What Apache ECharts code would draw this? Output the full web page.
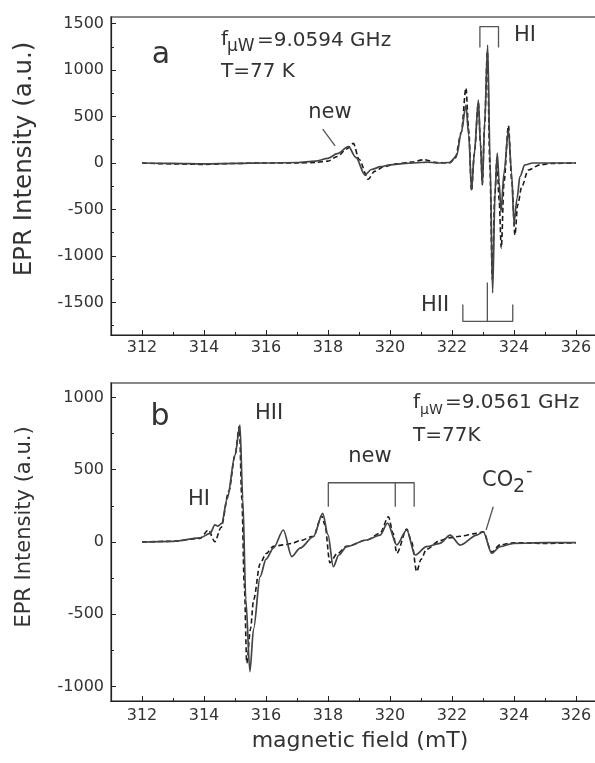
<!DOCTYPE html>
<html><head><meta charset="utf-8">
<script src="https://cdn.jsdelivr.net/npm/echarts@6/dist/echarts.min.js"></script>
<style>html,body{margin:0;padding:0;background:#fff}#c{width:595px;height:763px}</style>
</head><body><div id="c"></div>
<script>
// ---------- tick values ----------
const xTicks = [312, 314, 316, 318, 320, 322, 324, 326];
const xMinorTicks = [313, 315, 317, 319, 321, 323, 325, 327];
const yTicksA = [-1500, -1000, -500, 0, 500, 1000, 1500];
const yMinorA = [-1750, -1250, -750, -250, 250, 750, 1250];
const yTicksB = [-1000, -500, 0, 500, 1000];
const yMinorB = [-750, -250, 250, 750];

// ---------- panel a spectra [field mT, intensity] ----------
const solidA = [
  [312,0],[313,-5],[314,-10],[315,-5],[316,0],[317,5],[317.6,20],[318.0,50],[318.3,100],
  [318.66,175],[318.9,60],[319.19,-128],[319.4,-70],[319.7,-40],[320.0,-20],[320.5,-5],
  [321.0,5],[321.2,10],[321.5,0],[321.94,5],[322.15,80],[322.3,330],[322.45,623],[322.54,300],
  [322.63,-290],[322.72,100],[322.85,677],[322.92,200],[322.98,-236],[323.05,400],[323.15,1268],
  [323.23,0],[323.31,-1398],[323.39,-300],[323.46,107],[323.52,-200],[323.58,-523],[323.68,-100],
  [323.82,355],[323.92,-100],[324.0,-645],[324.1,-380],[324.19,-147],[324.35,-21],[324.6,0],[325,0],[326,0]
];
const dashedA = [
  [312,0],[313,-10],[314,-15],[315,-5],[316,0],[317,0],[317.6,5],[318.0,20],[318.3,70],
  [318.6,150],[318.82,211],[319.0,40],[319.3,-175],[319.5,-90],[319.8,-40],[320.2,-10],
  [320.7,10],[321.1,35],[321.5,5],[321.9,0],[322.1,50],[322.3,330],[322.45,806],[322.54,350],
  [322.63,-300],[322.72,100],[322.85,650],[322.92,200],[322.98,-230],[323.05,400],[323.14,1200],
  [323.22,0],[323.3,-1250],[323.38,-350],[323.45,50],[323.52,-400],[323.59,-914],[323.68,-200],
  [323.82,403],[323.93,-200],[324.03,-774],[324.12,-450],[324.25,-254],[324.46,-75],[324.84,-20],
  [325.2,-5],[326,0]
];

// ---------- panel b spectra ----------
const solidB = [
  [312,0],[313,5],[313.87,28],[314.2,60],[314.35,118],[314.45,110],[314.57,129],[314.75,300],
  [315.0,600],[315.16,809],[315.25,300],[315.35,-400],[315.48,-897],[315.6,-600],[315.81,-240],
  [316.0,-120],[316.24,-42],[316.56,83],[316.83,-101],[317.1,-42],[317.53,37],[317.83,198],
  [318.0,50],[318.17,-171],[318.35,-90],[318.6,-32],[319.25,14],[319.68,47],[319.92,131],
  [320.22,-20],[320.54,83],[320.81,-90],[321.18,-32],[321.61,-9],[321.94,48],[322.26,-21],
  [322.8,48],[323.01,71],[323.28,-78],[323.55,-32],[323.98,-9],[325,-5],[326,-5]
];
const dashedB = [
  [312,0],[313,5],[313.87,25],[314.14,83],[314.35,2],[314.55,100],[314.8,350],[315.0,600],
  [315.14,800],[315.22,300],[315.3,-300],[315.38,-838],[315.5,-600],[315.6,-400],[315.81,-150],
  [316.0,-80],[316.24,-30],[316.56,-20],[316.83,-10],[317.1,10],[317.53,40],[317.8,180],
  [317.9,120],[318.06,-143],[318.3,-80],[318.6,-30],[319.25,14],[319.68,60],[319.95,175],
  [320.1,60],[320.22,-78],[320.54,90],[320.7,0],[320.86,-205],[321.0,-120],[321.18,-50],
  [321.61,10],[321.94,30],[322.26,40],[322.8,60],[323.01,71],[323.28,-70],[323.55,-20],
  [324,-5],[325,-10],[326,-5]
];

// ---------- annotation brackets / pointers (data coordinates) ----------
const bracketHI_A = [[322.9,1242],[322.9,1467],[323.5,1467],[323.5,1242]];
const bracketHII_A = [[322.35,-1521],[322.35,-1703],[323.96,-1703],[323.96,-1521]];
const stemHII_A = [[323.14,-1285],[323.14,-1703]];
const pointerNew_A = [[317.83,365],[318.23,183]];
const bracketNew_B = [[318.01,244],[318.01,410],[320.78,410],[320.78,244]];
const stemNew_B = [[320.17,410],[320.17,244]];
const pointerCO2_B = [[323.33,244],[323.1,83]];

const FONT = '"DejaVu Sans", sans-serif';
const TXT = '#333';
const AX = '#222';

const chart = echarts.init(document.getElementById('c'), null, {renderer: 'canvas'});

function gridDef(top) {
  return {left: 111, top: top, width: 496, height: 318, show: true,
          borderColor: '#888', borderWidth: 2, backgroundColor: 'transparent',
          containLabel: false, outerBoundsMode: 'none'};
}
const plain = function (v) { return String(v); };
function mainX(gi, margin) {
  return {type: 'value', gridIndex: gi, min: 311, max: 327, position: 'bottom',
    axisLine: {show: true, onZero: false, lineStyle: {color: AX, width: 1.2}},
    axisTick: {show: true, inside: true, length: 5, customValues: xTicks, lineStyle: {color: AX}},
    axisLabel: {show: true, customValues: xTicks, margin: margin, fontFamily: FONT, fontSize: 16, color: TXT, formatter: plain},
    splitLine: {show: false}};
}
function minorX(gi) {
  return {type: 'value', gridIndex: gi, min: 311, max: 327, position: 'bottom',
    axisLine: {show: false, onZero: false},
    axisTick: {show: true, inside: true, length: 3, customValues: xMinorTicks, lineStyle: {color: AX}},
    axisLabel: {show: false, customValues: xMinorTicks}, splitLine: {show: false}};
}
function mainY(gi, min, max, ticks) {
  return {type: 'value', gridIndex: gi, min: min, max: max, position: 'left',
    axisLine: {show: true, onZero: false, lineStyle: {color: AX, width: 1.2}},
    axisTick: {show: true, inside: true, length: 5, customValues: ticks, lineStyle: {color: AX}},
    axisLabel: {show: true, customValues: ticks, margin: 7, fontFamily: FONT, fontSize: 16, color: TXT, formatter: plain},
    splitLine: {show: false}};
}
function minorY(gi, min, max, ticks) {
  return {type: 'value', gridIndex: gi, min: min, max: max, position: 'left',
    axisLine: {show: false, onZero: false},
    axisTick: {show: true, inside: true, length: 3, customValues: ticks, lineStyle: {color: AX}},
    axisLabel: {show: false, customValues: ticks}, splitLine: {show: false}};
}
function curve(data, xi, yi, dashed) {
  return {type: 'line', xAxisIndex: xi, yAxisIndex: yi, data: data, symbol: 'none',
    smooth: 0.3, smoothMonotone: 'x', silent: true, z: dashed ? 3 : 4,
    lineStyle: dashed ? {color: '#1a1a1a', width: 1.6, type: [5, 3]} : {color: '#444', width: 1.7}};
}
function mark(data, xi, yi) {
  return {type: 'line', xAxisIndex: xi, yAxisIndex: yi, data: data, symbol: 'none',
    smooth: false, silent: true, z: 5, lineStyle: {color: '#555', width: 1.3}};
}
function txt(x, y, text, size, align, extra) {
  return Object.assign({type: 'text', x: x, y: y, silent: true,
    style: {text: text, font: size + 'px ' + FONT, fill: TXT, align: align || 'left', verticalAlign: 'middle'}}, extra || {});
}

chart.setOption({
  animation: false,
  backgroundColor: '#fff',
  grid: [gridDef(17), gridDef(383)],
  xAxis: [mainX(0, 5), minorX(0), mainX(1, 7), minorX(1)],
  yAxis: [mainY(0, -1850, 1570, yTicksA), minorY(0, -1850, 1570, yMinorA),
          mainY(1, -1100, 1100, yTicksB), minorY(1, -1100, 1100, yMinorB)],
  series: [
    curve(dashedA, 0, 0, true), curve(solidA, 0, 0, false),
    curve(dashedB, 2, 2, true), curve(solidB, 2, 2, false),
    mark(bracketHI_A, 0, 0), mark(bracketHII_A, 0, 0), mark(stemHII_A, 0, 0), mark(pointerNew_A, 0, 0),
    mark(bracketNew_B, 2, 2), mark(stemNew_B, 2, 2), mark(pointerCO2_B, 2, 2)
  ],
  graphic: [
    // axis titles
    txt(25, 159, 'EPR Intensity (a.u.)', 24.5, 'center', {rotation: Math.PI / 2}),
    txt(25, 527, 'EPR Intensity (a.u.)', 21, 'center', {rotation: Math.PI / 2}),
    txt(360, 741, 'magnetic field (mT)', 22, 'center'),
    // panel a
    txt(161, 55, 'a', 30, 'center'),
    txt(221, 40, 'f', 20),
    txt(227, 47, 'μW', 17),
    txt(257, 41, '=9.0594 GHz', 20),
    txt(221, 72, 'T=77 K', 20),
    txt(330, 113, 'new', 21, 'center'),
    txt(525, 36, 'HI', 21, 'center'),
    txt(435, 306, 'HII', 21, 'center'),
    // panel b
    txt(160, 417, 'b', 30, 'center'),
    txt(413, 403, 'f', 20),
    txt(420, 410, 'μW', 14),
    txt(445, 403, '=9.0561 GHz', 20),
    txt(413, 436, 'T=77K', 20),
    txt(269, 414, 'HII', 21, 'center'),
    txt(199, 500, 'HI', 21, 'center'),
    txt(370, 457, 'new', 21, 'center'),
    txt(482, 481, 'CO', 21),
    txt(513, 487, '2', 19),
    txt(526, 471, '-', 18)
  ]
});
</script></body></html>
